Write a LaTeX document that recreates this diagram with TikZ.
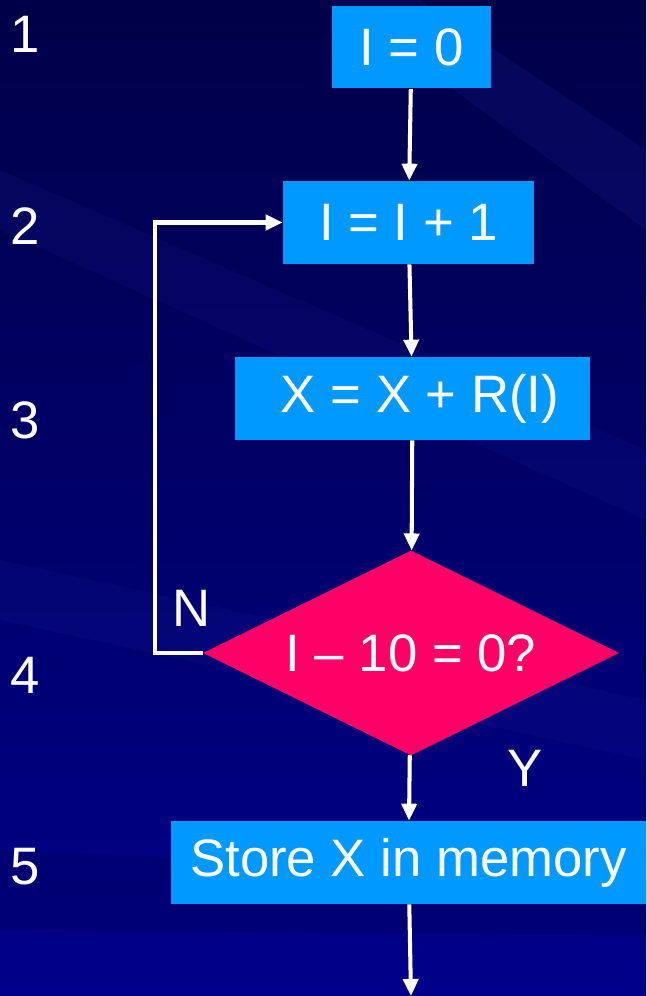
\documentclass[tikz,border=0pt]{standalone}
\usepackage{fontspec}
\setmainfont{Liberation Sans}
\usetikzlibrary{shapes.geometric,arrows.meta}

\definecolor{bgtop}{RGB}{0,0,72}
\definecolor{bgbottom}{RGB}{0,0,138}
\definecolor{streak}{RGB}{40,50,170}
\definecolor{boxblue}{RGB}{0,153,255}
\definecolor{testpink}{RGB}{255,0,102}

\begin{document}
\begin{tikzpicture}[x=0.02cm,y=-0.02cm,
  font=\fontsize{30}{36}\selectfont,
  box/.style={fill=boxblue, text=white, inner sep=0pt, minimum height=1.66cm},
  test/.style={diamond, aspect=2, fill=testpink, text=white, inner sep=0pt,
               minimum width=8.32cm, minimum height=4.1cm},
  flow/.style={draw=white, line width=2.3pt, -{Triangle[width=0.3cm,length=0.34cm]}},
  lbl/.style={text=white, inner sep=0pt}]

% ---------- background ----------
\useasboundingbox (0,0) rectangle (646,996);
\shade[top color=bgtop, bottom color=bgbottom] (0,0) rectangle (646,996);
\fill[streak, opacity=0.14] (330,0) -- (420,0) -- (646,150) -- (646,230) -- cycle;
\fill[streak, opacity=0.10] (0,170) -- (0,230) -- (646,520) -- (646,450) -- cycle;
\fill[streak, opacity=0.10] (0,560) -- (0,620) -- (646,760) -- (646,700) -- cycle;
\fill[bgtop, opacity=0.25] (0,850) -- (646,880) -- (646,935) -- (0,930) -- cycle;

% ---------- row numbers ----------
\node[lbl] (r1) at (25,34) {1};
\node[lbl] (r2) at (25,226) {2};
\node[lbl] (r3) at (25,420) {3};
\node[lbl] (r4) at (25,675) {4};
\node[lbl] (r5) at (25,867) {5};

% ---------- steps ----------
\node[box, minimum width=3.18cm] (init) at (411.5,47) {I = 0};
\node[box, minimum width=5.02cm] (incr) at (408.5,222.5) {I = I + 1};
\node[box, minimum width=7.1cm] (accum) at (412.5,398.5) {\hspace*{0.3cm}X = X + R(I)};
\node[test] (check) at (411,653) {I – 10 = 0?};
\node[box, minimum width=9.5cm] (store) at (408.5,862.5) {Store X in memory};
\coordinate (bend) at (155,653);
\coordinate (exit) at (411,996);

% ---------- branch labels ----------
\node[lbl] (no) at (192,608) {N};
\node[lbl] (yes) at (525,768) {Y};

% ---------- arrows ----------
\draw[flow] (init) -- (incr);
\draw[flow] (incr) -- (accum);
\draw[flow] (accum) -- (check);
\draw[flow] (check.west) -- (bend) |- (incr.west);
\draw[flow] (check) -- (store);
\draw[flow] (store) -- (exit);

\end{tikzpicture}
\end{document}
